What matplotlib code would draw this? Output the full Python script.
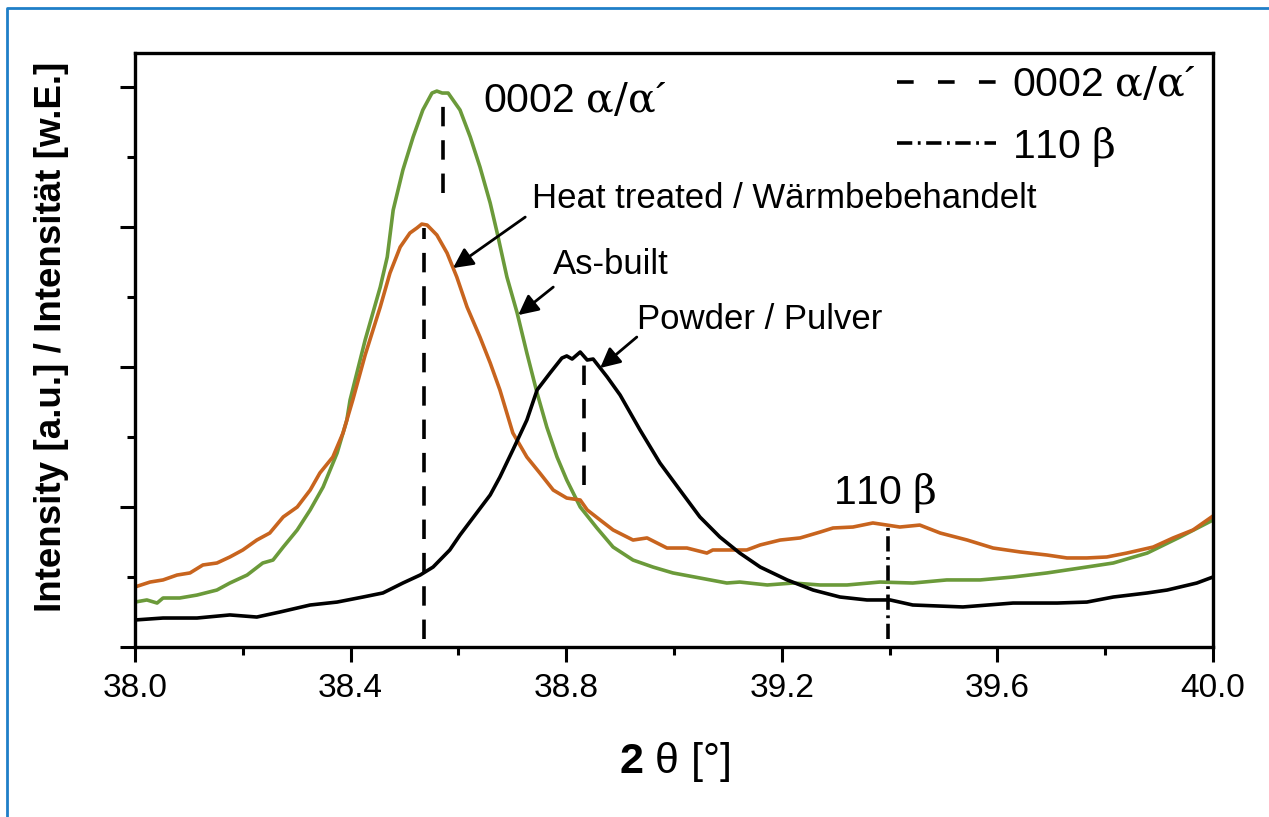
import matplotlib
matplotlib.use("Agg")
import matplotlib.pyplot as plt
from matplotlib.lines import Line2D
import matplotlib as mpl

# ── Cosmetic parameters ────────────────────────────────────────────────────────
mpl.rcParams.update({'font.family': 'Liberation Sans',
                     'mathtext.fontset': 'custom',
                     'mathtext.rm': 'DejaVu Serif',
                     'mathtext.it': 'DejaVu Serif:italic',
                     'mathtext.bf': 'Liberation Sans:bold',
                     'lines.scale_dashes': False})

GREEN  = "#6b9a3a"
ORANGE = "#c8641e"
BLACK  = "#000000"

# ── Data ──────────────────────────────────────────────────────────────────────
# As-built
asbuilt_x = [38.000, 38.022, 38.041, 38.052, 38.083, 38.115, 38.152, 38.176, 38.208, 38.237,
             38.256, 38.275, 38.301, 38.325, 38.349, 38.375, 38.393, 38.399, 38.427, 38.455,
             38.468, 38.479, 38.497, 38.516, 38.534, 38.551, 38.560, 38.570, 38.581, 38.603,
             38.622, 38.640, 38.659, 38.672, 38.690, 38.709, 38.727, 38.746, 38.764, 38.783,
             38.801, 38.826, 38.857, 38.887, 38.924, 38.961, 38.998, 39.048, 39.098, 39.122,
             39.173, 39.221, 39.271, 39.321, 39.382, 39.443, 39.506, 39.568, 39.629, 39.692,
             39.753, 39.815, 39.878, 39.939, 40.000]
asbuilt_y = [0.321, 0.336, 0.314, 0.350, 0.350, 0.371, 0.407, 0.457, 0.514, 0.600,
             0.621, 0.714, 0.836, 0.979, 1.143, 1.386, 1.621, 1.764, 2.193, 2.571,
             2.786, 3.121, 3.407, 3.643, 3.836, 3.957, 3.971, 3.957, 3.957, 3.836,
             3.643, 3.429, 3.171, 2.957, 2.643, 2.386, 2.100, 1.814, 1.571, 1.357,
             1.193, 1.000, 0.850, 0.714, 0.621, 0.571, 0.529, 0.493, 0.457, 0.464,
             0.443, 0.457, 0.443, 0.443, 0.464, 0.457, 0.479, 0.479, 0.500, 0.529,
             0.564, 0.600, 0.671, 0.786, 0.907]

# Heat treated
heat_x = [38.000, 38.028, 38.052, 38.078, 38.102, 38.126, 38.152, 38.176, 38.200, 38.226,
          38.250, 38.275, 38.301, 38.325, 38.343, 38.367, 38.386, 38.404, 38.427, 38.455,
          38.473, 38.492, 38.510, 38.523, 38.532, 38.542, 38.560, 38.579, 38.597, 38.616,
          38.640, 38.659, 38.677, 38.701, 38.727, 38.751, 38.776, 38.801, 38.826, 38.839,
          38.863, 38.887, 38.924, 38.950, 38.987, 39.024, 39.061, 39.072, 39.109, 39.135,
          39.160, 39.197, 39.234, 39.271, 39.295, 39.332, 39.369, 39.395, 39.419, 39.456,
          39.494, 39.544, 39.592, 39.642, 39.692, 39.729, 39.766, 39.803, 39.840, 39.889,
          39.926, 39.963, 40.000]
heat_y = [0.429, 0.464, 0.479, 0.514, 0.529, 0.586, 0.600, 0.643, 0.693, 0.764,
          0.814, 0.929, 1.000, 1.121, 1.243, 1.357, 1.529, 1.764, 2.086, 2.429,
          2.671, 2.857, 2.957, 2.993, 3.021, 3.014, 2.943, 2.814, 2.643, 2.429,
          2.214, 2.029, 1.836, 1.529, 1.357, 1.243, 1.121, 1.064, 1.050, 0.979,
          0.907, 0.836, 0.764, 0.779, 0.707, 0.707, 0.671, 0.693, 0.693, 0.693,
          0.729, 0.764, 0.779, 0.821, 0.850, 0.857, 0.886, 0.871, 0.857, 0.871,
          0.814, 0.764, 0.707, 0.679, 0.657, 0.636, 0.636, 0.643, 0.671, 0.714,
          0.779, 0.836, 0.936]

# Powder
powder_x = [38.000, 38.052, 38.115, 38.176, 38.226, 38.269, 38.325, 38.375, 38.423, 38.460,
            38.497, 38.529, 38.553, 38.584, 38.603, 38.631, 38.659, 38.677, 38.701, 38.727,
            38.746, 38.770, 38.792, 38.801, 38.811, 38.826, 38.839, 38.850, 38.876, 38.900,
            38.937, 38.974, 39.011, 39.048, 39.085, 39.122, 39.160, 39.210, 39.258, 39.308,
            39.358, 39.401, 39.443, 39.536, 39.629, 39.711, 39.766, 39.815, 39.878, 39.915,
            39.970, 40.000]
powder_y = [0.193, 0.207, 0.207, 0.229, 0.214, 0.250, 0.300, 0.321, 0.357, 0.386,
            0.457, 0.514, 0.571, 0.693, 0.800, 0.943, 1.086, 1.214, 1.407, 1.621,
            1.836, 1.957, 2.064, 2.079, 2.057, 2.107, 2.050, 2.057, 1.929, 1.800,
            1.550, 1.314, 1.121, 0.929, 0.786, 0.671, 0.571, 0.479, 0.407, 0.357,
            0.336, 0.336, 0.300, 0.286, 0.314, 0.314, 0.321, 0.357, 0.386, 0.407,
            0.457, 0.500]

# Reflex marker lines: position, lower end, upper end
alpha_pos = [38.536, 38.572, 38.833]
alpha_lo  = [0.06, 3.24, 1.16]
alpha_hi  = [2.99, 3.96, 2.07]
beta_pos  = [39.397]
beta_lo   = [0.06]
beta_hi   = [0.86]

x_ticks = [38.0, 38.4, 38.8, 39.2, 39.6, 40.0]
x_tick_labels = ["38.0", "38.4", "38.8", "39.2", "39.6", "40.0"]

# ── Figure ─────────────────────────────────────────────────────────────────────
fig = plt.figure(figsize=(12.69, 8.17), dpi=100)
ax = fig.add_axes([135/1269, 1 - 647/817, (1213-135)/1269, (647-53)/817])

ax.plot(asbuilt_x, asbuilt_y, color=GREEN,  lw=2.6)
ax.plot(heat_x,    heat_y,    color=ORANGE, lw=2.6)
ax.plot(powder_x,  powder_y,  color=BLACK,  lw=2.6)

ax.vlines(alpha_pos, alpha_lo, alpha_hi, colors='k', lw=2.6, linestyles=(0, (14, 10)))
ax.vlines(beta_pos,  beta_lo,  beta_hi,  colors='k', lw=2.6, linestyles=(0, (11, 4, 2, 4)))

ax.set_xlim(38.0, 40.0)
ax.set_ylim(0, 4.243)
ax.set_xticks(x_ticks)
ax.set_xticklabels(x_tick_labels)
ax.set_xticks([38.2, 38.6, 39.0, 39.4, 39.8], minor=True)
ax.set_yticks([0, 1, 2, 3, 4])
ax.set_yticklabels([])
ax.set_yticks([0.5, 1.5, 2.5, 3.5], minor=True)
ax.tick_params(which='major', direction='out', length=11, width=2.2, labelsize=24, pad=8)
ax.tick_params(which='minor', direction='out', length=5.5, width=2.2)
for sp in ax.spines.values():
    sp.set_linewidth(2.4)

ax.set_ylabel("Intensity [a.u.] / Intensität [w.E.]", fontsize=26.5, fontweight='bold')
ax.yaxis.set_label_coords(-0.061, 0.522)
fig.text(675/1269, 1 - 762/817, r"$\mathbf{2}$ θ [°]", fontsize=31, ha='center', va='center')

# Peak labels
ax.text(38.646, 3.90, r"0002 $\mathrm{\alpha/\alpha}$´", fontsize=29.5, va='center')
ax.text(39.295, 1.10, r"110 $\mathrm{\beta}$", fontsize=29.5, va='center')

# Curve labels with arrows
arrow = dict(arrowstyle='-|>', color='k', lw=2.0, mutation_scale=30, shrinkA=0, shrinkB=0)
ax.text(38.737, 3.207, "Heat treated / Wärmbebehandelt", fontsize=25, va='center')
ax.annotate("", xy=(38.590, 2.707), xytext=(38.724, 3.071), arrowprops=arrow)
ax.text(38.776, 2.729, "As-built", fontsize=25, va='center')
ax.annotate("", xy=(38.711, 2.371), xytext=(38.776, 2.571), arrowprops=arrow)
ax.text(38.931, 2.336, "Powder / Pulver", fontsize=25, va='center')
ax.annotate("", xy=(38.863, 1.993), xytext=(38.931, 2.214), arrowprops=arrow)

# Legend
handles = [Line2D([], [], color='k', lw=2.6, linestyle=(0, (12, 17.5))),
           Line2D([], [], color='k', lw=2.6, linestyle=(0, (11, 4, 2, 4)))]
labels = [r"0002 $\mathrm{\alpha/\alpha}$´", r"110 $\mathrm{\beta}$"]
ax.legend(handles, labels, loc='upper right', bbox_to_anchor=(0.984, 0.978), frameon=False,
          fontsize=29.5, handlelength=2.42, handletextpad=0.38, labelspacing=0.5,
          borderpad=0.0, borderaxespad=0.0)

# Blue frame (top and left edge)
fig.add_artist(Line2D([7/1269, 7/1269, 1.0], [0.0, 1 - 8/817, 1 - 8/817],
                      transform=fig.transFigure, color='#1f7fc8', lw=2))

fig.savefig("out.png", dpi=100)
